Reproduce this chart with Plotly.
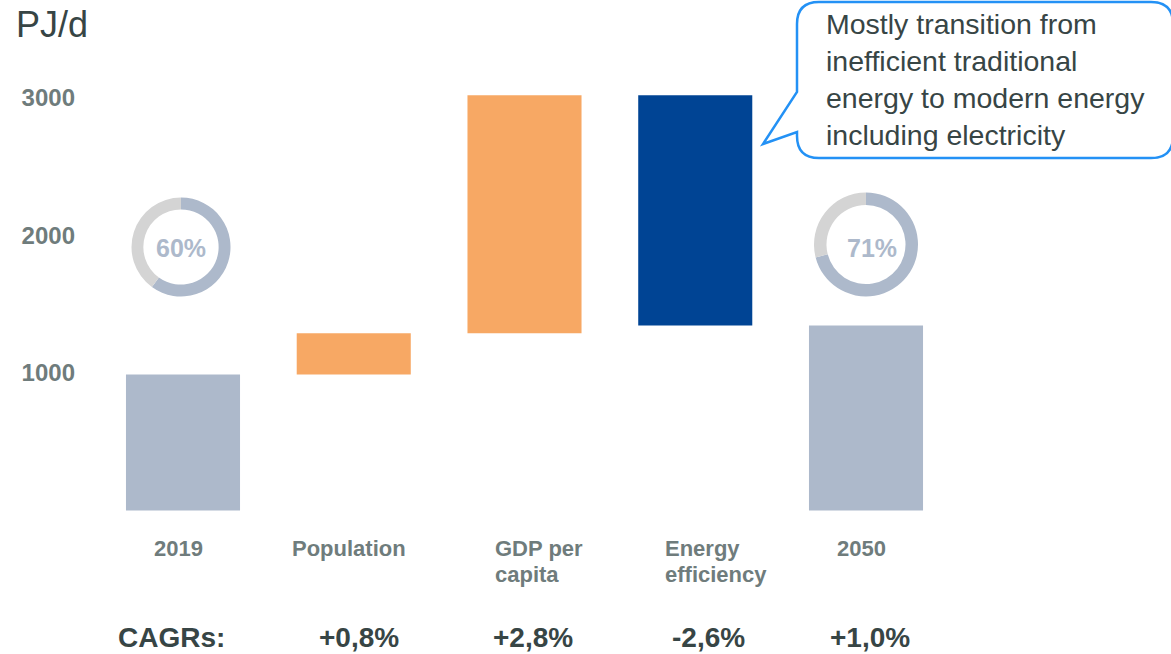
import plotly.graph_objects as go

# Energy demand bridge 2019 -> 2050 (PJ/d)
categories = ["2019", "Population", "GDP per<br>capita", "Energy<br>efficiency", "2050"]
measures = ["absolute", "relative", "relative", "relative", "total"]
values = [990, 300, 1730, -1675, 0]
cagr_labels = ["+0,8%", "+2,8%", "-2,6%", "+1,0%"]
share_2019 = 60
share_2050 = 71
y_ticks = [1000, 2000, 3000]
callout_text = ("Mostly transition from<br>inefficient traditional<br>"
                "energy to modern energy<br>including electricity")

W, H = 1171, 654
L_MARGIN = 80
PLOT_W = W - L_MARGIN
FONT = "Liberation Sans, Arial, sans-serif"

GREY_BAR = "#ADB9CB"
ORANGE = "#F7A864"
NAVY = "#004494"
RING_REST = "#D4D4D4"
LABEL_GREY = "#6F7C7C"
DARK = "#374545"
CALLOUT_BLUE = "#2391F5"

# axis scaling: bar pitch and zero line in pixels
PITCH = 170.75
X0_PX = 183
Y0_PX = 510.5
PX_PER_UNIT = 0.1375

x_idx = list(range(len(categories)))


def px_x(px):
    return (px - L_MARGIN) / PLOT_W


def px_y(py):
    return 1 - py / H


fig = go.Figure()

fig.add_trace(go.Waterfall(
    x=x_idx,
    y=values,
    measure=measures,
    width=0.668,
    increasing=dict(marker=dict(color=ORANGE)),
    decreasing=dict(marker=dict(color=NAVY)),
    totals=dict(marker=dict(color=GREY_BAR)),
    connector=dict(visible=False),
    hoverinfo="skip",
    showlegend=False,
))


def ring(share, cx, cy, r):
    return go.Pie(
        values=[share, 100 - share],
        marker=dict(colors=[GREY_BAR, RING_REST], line=dict(width=0)),
        hole=0.76,
        sort=False,
        direction="clockwise",
        rotation=0,
        textinfo="none",
        hoverinfo="skip",
        showlegend=False,
        domain=dict(x=[px_x(cx - r), px_x(cx + r)], y=[px_y(cy + r), px_y(cy - r)]),
    )


fig.add_trace(ring(share_2019, 181, 247, 49.5))
fig.add_trace(ring(share_2050, 866, 244.5, 52))

annotations = []


def note(text, x, y, size, color, xanchor="center", yanchor="middle", **kw):
    return dict(text=text, x=x, y=y, xanchor=xanchor, yanchor=yanchor,
                showarrow=False, font=dict(family=FONT, size=size, color=color), **kw)


# ring percentages
annotations.append(note(f"<b>{share_2019}%</b>", px_x(181), px_y(248), 25, GREY_BAR,
                        xref="paper", yref="paper"))
annotations.append(note(f"<b>{share_2050}%</b>", px_x(872), px_y(248), 25, GREY_BAR,
                        xref="paper", yref="paper"))

# category labels under the bars (multi-line labels are left aligned, tight leading)
for i, lab in enumerate(categories):
    lines = lab.split("<br>")
    two_line = len(lines) > 1
    for k, line in enumerate(lines):
        annotations.append(note(f"<b>{line}</b>", i, px_y(548 + 26 * k), 22, LABEL_GREY,
                                xanchor="left" if two_line else "center",
                                xref="x", yref="paper",
                                xshift=-32 if two_line else -5))

# CAGR row
annotations.append(note("<b>CAGRs:</b>", 0, px_y(637), 28, DARK,
                        xref="x", yref="paper", xshift=-12))
cagr_shift = [5, 8, 13, 4]
for i, lab in enumerate(cagr_labels):
    annotations.append(note(f"<b>{lab}</b>", i + 1, px_y(637), 28, DARK,
                            xref="x", yref="paper", xshift=cagr_shift[i]))

# unit label
annotations.append(note("PJ/d", px_x(14), px_y(24), 36, DARK, xanchor="left",
                        xref="paper", yref="paper"))

# callout text
annotations.append(note(callout_text, px_x(824), px_y(80), 28.5, DARK, xanchor="left",
                        xref="paper", yref="paper", align="left"))

# speech-bubble outline
pts = [
    ("M", 819, 2), ("L", 1151, 2), ("Q", 1173, 2, 1173, 24), ("L", 1173, 136),
    ("Q", 1173, 158, 1151, 158), ("L", 819, 158), ("Q", 797, 158, 797, 136),
    ("L", 797, 132), ("L", 763, 144), ("L", 797, 92), ("L", 797, 24),
    ("Q", 797, 2, 819, 2),
]
path = ""
for p in pts:
    cmd, coords = p[0], p[1:]
    parts = []
    for j in range(0, len(coords), 2):
        parts.append(f"{px_x(coords[j]):.5f},{px_y(coords[j + 1]):.5f}")
    path += cmd + " " + " ".join(parts) + " "
path += "Z"

fig.update_layout(
    width=W, height=H,
    margin=dict(l=L_MARGIN, r=0, t=0, b=0),
    paper_bgcolor="white", plot_bgcolor="white",
    annotations=annotations,
    shapes=[dict(type="path", path=path, xref="paper", yref="paper",
                 line=dict(color=CALLOUT_BLUE, width=2.5), fillcolor="rgba(255,255,255,0)",
                 layer="above")],
    xaxis=dict(range=[(L_MARGIN - X0_PX) / PITCH, (W - X0_PX) / PITCH],
               showgrid=False, zeroline=False, showline=False,
               showticklabels=False, fixedrange=True),
    yaxis=dict(range=[-(H - Y0_PX) / PX_PER_UNIT, Y0_PX / PX_PER_UNIT],
               tickvals=y_ticks, ticktext=[f"<b>{v}</b>" for v in y_ticks],
               showgrid=False, zeroline=False, showline=False, ticks="",
               ticklabelstandoff=4,
               tickfont=dict(family=FONT, size=24, color=LABEL_GREY), fixedrange=True),
)

fig.write_html("out.html")
